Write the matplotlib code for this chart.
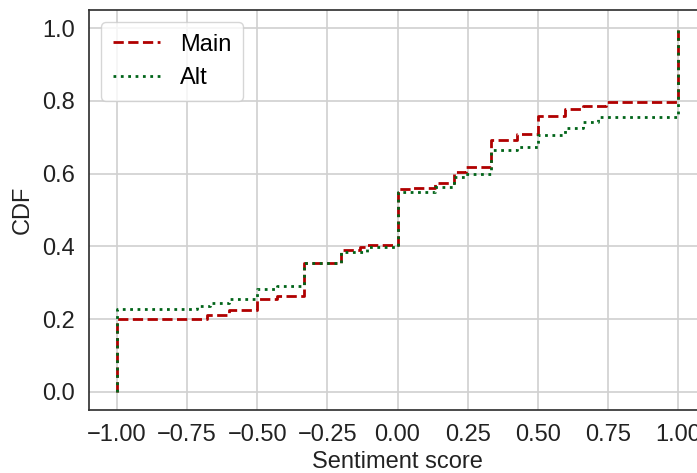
import numpy as np
import matplotlib.pyplot as plt
from matplotlib.ticker import FuncFormatter

# step positions and CDF values
main_x = [-1.0, -1.0, -0.68, -0.6, -0.5, -0.43, -0.333, -0.2, -0.134, -0.11, 0.0,
          0.056, 0.134, 0.2, 0.246, 0.333, 0.426, 0.5, 0.597, 0.662, 0.745, 1.0, 1.0]
main_y = [0.0, 0.201, 0.211, 0.225, 0.254, 0.263, 0.353, 0.389, 0.397, 0.405, 0.557,
          0.561, 0.573, 0.605, 0.619, 0.692, 0.708, 0.759, 0.777, 0.787, 0.796, 0.796, 1.0]

alt_x = [-1.0, -1.0, -0.716, -0.67, -0.6, -0.5, -0.43, -0.333, -0.2, -0.11, 0.0,
         0.134, 0.2, 0.24, 0.333, 0.426, 0.5, 0.597, 0.662, 0.716, 1.0, 1.0]
alt_y = [0.0, 0.229, 0.236, 0.243, 0.256, 0.284, 0.291, 0.353, 0.385, 0.397, 0.55,
         0.564, 0.592, 0.599, 0.665, 0.674, 0.706, 0.725, 0.743, 0.755, 0.755, 1.0]

plt.rcParams['font.family'] = ['Liberation Sans', 'DejaVu Sans']
plt.rcParams['font.size'] = 17

fig = plt.figure(figsize=(6.97, 4.73), dpi=100)
ax = fig.add_axes([89 / 697, 63 / 473, (706 - 89) / 697, 400 / 473])

ax.step(main_x, main_y, where='post', color='#b00000', ls='--', lw=2, label='Main')
ax.step(alt_x, alt_y, where='post', color='#006418', ls=':', lw=2, label='Alt')

ax.set_xlim(-1.1, 1.1)
ax.set_ylim(-0.05, 1.05)
ax.set_xticks(np.arange(-1, 1.01, 0.25))
ax.set_yticks(np.arange(0, 1.01, 0.2))
ax.xaxis.set_major_formatter(FuncFormatter(lambda v, p: ('%.2f' % v).replace('-', '\u2212')))
ax.yaxis.set_major_formatter(FuncFormatter(lambda v, p: ('%.1f' % v).replace('-', '\u2212')))
ax.grid(True, color='#d0d0d0', lw=1.2)
ax.set_axisbelow(True)
ax.tick_params(length=0, pad=10, labelcolor='#222222')
for s in ax.spines.values():
    s.set_color('#333333')
    s.set_linewidth(1.25)

ax.set_xlabel('Sentiment score', color='#222222', labelpad=4)
ax.set_ylabel('CDF', color='#222222', labelpad=6)

leg = ax.legend(loc='upper left', fancybox=True, edgecolor='#cccccc', framealpha=0.8,
                handlelength=2.0, handletextpad=0.85, borderpad=0.5, labelspacing=0.5)

fig.savefig('out.png', dpi=100)
